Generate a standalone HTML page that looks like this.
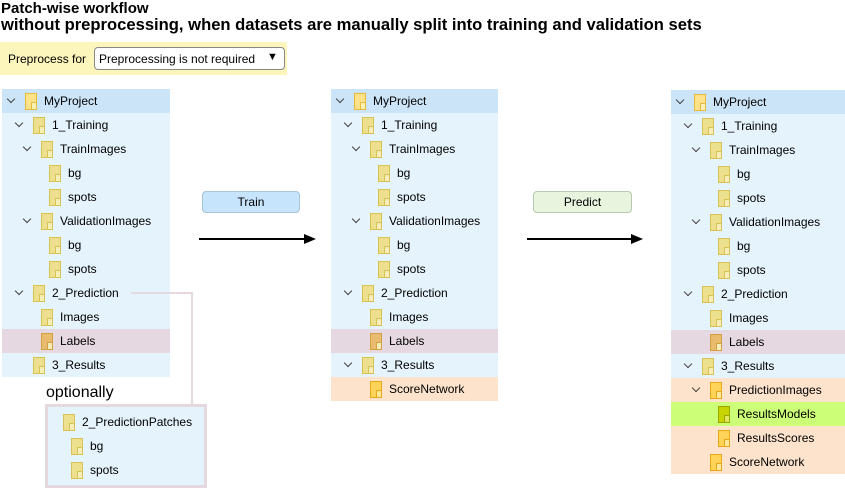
<!DOCTYPE html>
<html><head><meta charset="utf-8"><style>
*{margin:0;padding:0;box-sizing:border-box}
body{width:845px;height:489px;background:#fff;position:relative;overflow:hidden;font-family:"Liberation Sans",sans-serif;font-size:12px;color:#000}
.a{position:absolute}
.p{position:absolute;background:#e5f3fd}
.r{position:absolute;left:0;right:0;height:24px}
.r.h{background:#cce4f7}
.r.l{background:#e6d8e0}
.r.o{background:#fde3cc}
.r.g{background:#ccff77}
.c{position:absolute;top:7px;width:6px;height:6px;border-right:1.5px solid #444;border-bottom:1.5px solid #444;transform:rotate(45deg)}
.f{position:absolute;top:4px;width:12px;height:17px;background:#ece08f;border:1px solid #d8c253}
.f::after{content:"";position:absolute;right:-1px;bottom:-1px;width:4px;height:6px;border:1px solid #d8c253;background:#f6eeb8}
.f.y{background:#fde28a;border-color:#e7bb3a}
.f.y::after{border-color:#e7bb3a;background:#fff0b8}
.f.or{background:#e9bb6f;border-color:#d4a040}
.f.or::after{border-color:#d4a040}
.f.gr{background:#c8d400;border-color:#98a800}
.f.gr::after{border-color:#98a800;background:#dfe860}
.f.sc{background:#ffd35a;border-color:#e6a817}
.f.sc::after{border-color:#e6a817;background:#ffe79a}
.t{position:absolute;top:5px;white-space:nowrap}
</style></head><body>
<div class="a" style="left:1px;top:0;font-weight:bold;font-size:15px;line-height:17px">Patch-wise workflow</div>
<div class="a" style="left:1px;top:16px;font-weight:bold;font-size:16.6px;line-height:18px;white-space:nowrap">without preprocessing, when datasets are manually split into training and validation sets</div>
<div class="a" style="left:0;top:42px;width:287px;height:33px;background:#fcf6bc"></div>
<div class="a" style="left:8px;top:52px;font-size:12px">Preprocess for</div>
<div class="a" style="left:94px;top:47px;width:191px;height:23px;border:1px solid #888;border-radius:4px;background:#fff"></div>
<div class="a" style="left:99px;top:52px">Preprocessing is not required</div>
<div class="a" style="left:267px;top:51px;font-size:11px">▼</div>

<!-- panel 1 -->
<div class="p" style="left:2px;top:89px;width:168px;height:288px">
<div class="r h" style="top:0"><i class="c" style="left:6px"></i><i class="f y" style="left:23px"></i><span class="t" style="left:42px">MyProject</span></div>
<div class="r" style="top:24px"><i class="c" style="left:14px"></i><i class="f" style="left:31px"></i><span class="t" style="left:50px">1_Training</span></div>
<div class="r" style="top:48px"><i class="c" style="left:22px"></i><i class="f" style="left:39px"></i><span class="t" style="left:58px">TrainImages</span></div>
<div class="r" style="top:72px"><i class="f" style="left:47px"></i><span class="t" style="left:66px">bg</span></div>
<div class="r" style="top:96px"><i class="f" style="left:47px"></i><span class="t" style="left:66px">spots</span></div>
<div class="r" style="top:120px"><i class="c" style="left:22px"></i><i class="f" style="left:39px"></i><span class="t" style="left:58px">ValidationImages</span></div>
<div class="r" style="top:144px"><i class="f" style="left:47px"></i><span class="t" style="left:66px">bg</span></div>
<div class="r" style="top:168px"><i class="f" style="left:47px"></i><span class="t" style="left:66px">spots</span></div>
<div class="r" style="top:192px"><i class="c" style="left:14px"></i><i class="f" style="left:31px"></i><span class="t" style="left:50px">2_Prediction</span></div>
<div class="r" style="top:216px"><i class="f" style="left:39px"></i><span class="t" style="left:58px">Images</span></div>
<div class="r l" style="top:240px"><i class="f or" style="left:39px"></i><span class="t" style="left:58px">Labels</span></div>
<div class="r" style="top:264px"><i class="f" style="left:31px"></i><span class="t" style="left:50px">3_Results</span></div>
</div>
<div class="a" style="left:131px;top:292px;width:62px;height:113px;border-top:2px solid #e6d8df;border-right:2px solid #e6d8df"></div>
<div class="a" style="left:46px;top:384px;font-size:16px">optionally</div>
<div class="p" style="left:45px;top:404px;width:162px;height:84px;border:3px solid #e6d8df">
<div class="r" style="top:3px"><i class="f" style="left:15px"></i><span class="t" style="left:34px">2_PredictionPatches</span></div>
<div class="r" style="top:27px"><i class="f" style="left:23px"></i><span class="t" style="left:42px">bg</span></div>
<div class="r" style="top:51px"><i class="f" style="left:23px"></i><span class="t" style="left:42px">spots</span></div>
</div>

<!-- buttons/arrows -->
<div class="a" style="left:202px;top:191px;width:98px;height:22px;background:#c6e4fb;border:1px solid #aac4d8;border-radius:4px;text-align:center;line-height:20px">Train</div>
<div class="a" style="left:533px;top:191px;width:99px;height:22px;background:#e8f4de;border:1px solid #b9c8b0;border-radius:4px;text-align:center;line-height:20px">Predict</div>
<svg class="a" style="left:0;top:0" width="845" height="489">
<line x1="199" y1="239" x2="306" y2="239" stroke="#000" stroke-width="2"/><polygon points="304,234 316,239 304,244" fill="#000"/>
<line x1="527" y1="239" x2="633" y2="239" stroke="#000" stroke-width="2"/><polygon points="631,234 643,239 631,244" fill="#000"/>
</svg>

<!-- panel 2 -->
<div class="p" style="left:331px;top:89px;width:167px;height:312px">
<div class="r h" style="top:0"><i class="c" style="left:6px"></i><i class="f y" style="left:23px"></i><span class="t" style="left:42px">MyProject</span></div>
<div class="r" style="top:24px"><i class="c" style="left:14px"></i><i class="f" style="left:31px"></i><span class="t" style="left:50px">1_Training</span></div>
<div class="r" style="top:48px"><i class="c" style="left:22px"></i><i class="f" style="left:39px"></i><span class="t" style="left:58px">TrainImages</span></div>
<div class="r" style="top:72px"><i class="f" style="left:47px"></i><span class="t" style="left:66px">bg</span></div>
<div class="r" style="top:96px"><i class="f" style="left:47px"></i><span class="t" style="left:66px">spots</span></div>
<div class="r" style="top:120px"><i class="c" style="left:22px"></i><i class="f" style="left:39px"></i><span class="t" style="left:58px">ValidationImages</span></div>
<div class="r" style="top:144px"><i class="f" style="left:47px"></i><span class="t" style="left:66px">bg</span></div>
<div class="r" style="top:168px"><i class="f" style="left:47px"></i><span class="t" style="left:66px">spots</span></div>
<div class="r" style="top:192px"><i class="c" style="left:14px"></i><i class="f" style="left:31px"></i><span class="t" style="left:50px">2_Prediction</span></div>
<div class="r" style="top:216px"><i class="f" style="left:39px"></i><span class="t" style="left:58px">Images</span></div>
<div class="r l" style="top:240px"><i class="f or" style="left:39px"></i><span class="t" style="left:58px">Labels</span></div>
<div class="r" style="top:264px"><i class="c" style="left:14px"></i><i class="f" style="left:31px"></i><span class="t" style="left:50px">3_Results</span></div>
<div class="r o" style="top:288px"><i class="f sc" style="left:39px"></i><span class="t" style="left:58px">ScoreNetwork</span></div>
</div>

<!-- panel 3 -->
<div class="p" style="left:671px;top:90px;width:174px;height:384px">
<div class="r h" style="top:0"><i class="c" style="left:6px"></i><i class="f y" style="left:23px"></i><span class="t" style="left:42px">MyProject</span></div>
<div class="r" style="top:24px"><i class="c" style="left:14px"></i><i class="f" style="left:31px"></i><span class="t" style="left:50px">1_Training</span></div>
<div class="r" style="top:48px"><i class="c" style="left:22px"></i><i class="f" style="left:39px"></i><span class="t" style="left:58px">TrainImages</span></div>
<div class="r" style="top:72px"><i class="f" style="left:47px"></i><span class="t" style="left:66px">bg</span></div>
<div class="r" style="top:96px"><i class="f" style="left:47px"></i><span class="t" style="left:66px">spots</span></div>
<div class="r" style="top:120px"><i class="c" style="left:22px"></i><i class="f" style="left:39px"></i><span class="t" style="left:58px">ValidationImages</span></div>
<div class="r" style="top:144px"><i class="f" style="left:47px"></i><span class="t" style="left:66px">bg</span></div>
<div class="r" style="top:168px"><i class="f" style="left:47px"></i><span class="t" style="left:66px">spots</span></div>
<div class="r" style="top:192px"><i class="c" style="left:14px"></i><i class="f" style="left:31px"></i><span class="t" style="left:50px">2_Prediction</span></div>
<div class="r" style="top:216px"><i class="f" style="left:39px"></i><span class="t" style="left:58px">Images</span></div>
<div class="r l" style="top:240px"><i class="f or" style="left:39px"></i><span class="t" style="left:58px">Labels</span></div>
<div class="r" style="top:264px"><i class="c" style="left:14px"></i><i class="f" style="left:31px"></i><span class="t" style="left:50px">3_Results</span></div>
<div class="r o" style="top:288px"><i class="c" style="left:22px"></i><i class="f sc" style="left:39px"></i><span class="t" style="left:58px">PredictionImages</span></div>
<div class="r g" style="top:312px"><i class="f gr" style="left:47px"></i><span class="t" style="left:66px">ResultsModels</span></div>
<div class="r o" style="top:336px"><i class="f sc" style="left:47px"></i><span class="t" style="left:66px">ResultsScores</span></div>
<div class="r o" style="top:360px"><i class="f sc" style="left:39px"></i><span class="t" style="left:58px">ScoreNetwork</span></div>
</div>
</body></html>
